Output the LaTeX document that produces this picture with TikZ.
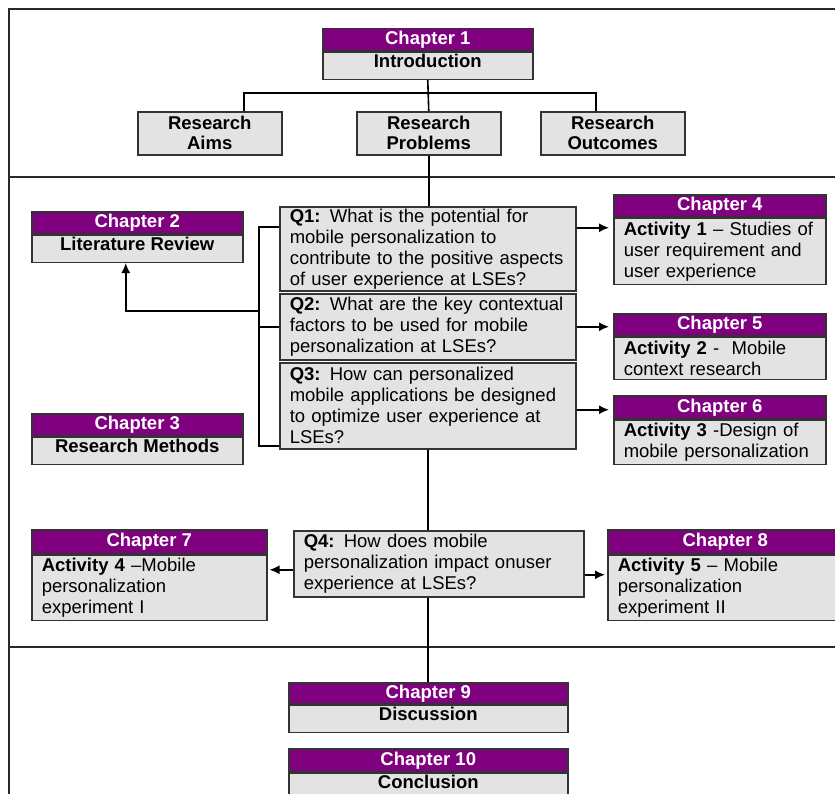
\documentclass[tikz,border=0pt]{standalone}
\usepackage{fontspec}
\setmainfont{Liberation Sans}
\usetikzlibrary{arrows.meta}
\definecolor{chpurple}{HTML}{800080}
\definecolor{boxgray}{HTML}{E3E3E3}
\definecolor{edge}{HTML}{333333}
\definecolor{rule}{HTML}{2A2A2A}

\begin{document}
\begin{tikzpicture}[x=1bp,y=-1bp,
  txt/.style={font=\fontsize{18.5bp}{21bp}\selectfont},
  hdr/.style={txt, draw=edge, fill=chpurple, text=white, font=\fontsize{18.5bp}{21bp}\selectfont\bfseries,
              line width=1.5bp, minimum height=22bp, inner sep=0pt, anchor=north west},
  titlebody/.style={txt, draw=edge, fill=boxgray, line width=1.5bp, inner sep=0pt,
              text height=13bp, text depth=9.5bp,
              font=\fontsize{18.5bp}{21bp}\selectfont\bfseries, anchor=north},
  actbody/.style={txt, draw=edge, fill=boxgray, line width=1.5bp, inner xsep=10bp, inner ysep=0bp,
              align=left, anchor=north},
  topicbox/.style={txt, draw=edge, fill=boxgray, line width=1.5bp, inner sep=0pt, align=center,
              font=\fontsize{18.5bp}{20bp}\selectfont\bfseries, minimum width=144bp, minimum height=43bp,
              anchor=north west},
  qbox/.style={txt, draw=edge, fill=boxgray, line width=1.5bp, inner xsep=10bp, inner ysep=1bp,
              align=left, anchor=north west},
  link/.style={draw=black, line width=1.6bp},
  arr/.style={link, -{Latex[length=10bp,width=9bp]}},
  framerule/.style={draw=rule, line width=1.7bp}
]
\useasboundingbox (0,0) rectangle (835,794);
\clip (0,0) rectangle (835,794);

% section frame
\draw[framerule] (845,9) -- (9,9) -- (9,800);
\draw[framerule] (9,177) -- (845,177);
\draw[framerule] (9,647) -- (845,647);

% ---- Chapter 1 and its three topics
\node[hdr, minimum width=210bp] (c1h) at (322,28) {Chapter 1};
\node[titlebody, minimum width=210bp, minimum height=27bp] (c1) at (c1h.south) {Introduction};

\node[topicbox] (aims)  at (137,111) {Research\\Aims};
\node[topicbox] (probs) at (356,111) {Research\\Problems};
\node[topicbox] (outc)  at (540,111) {Research\\Outcomes};

\draw[link] (c1.south) -- (probs.north);
\draw[link] ([xshift=34bp]aims.north) -- ++(0,-18) -| ([xshift=-17bp]outc.north);

% ---- research questions
\node[qbox, text width=276bp, minimum width=296bp, minimum height=84bp] (q1) at (279,206)
  {\textbf{Q1:} What is the potential for\\mobile personalization to\\contribute to the positive aspects\\of user experience at LSEs?};
\node[qbox, text width=276bp, minimum width=296bp, minimum height=66bp] (q2) at (279,293)
  {\textbf{Q2:} What are the key contextual\\factors to be used for mobile\\personalization at LSEs?};
\node[qbox, text width=276bp, minimum width=296bp, minimum height=86bp] (q3) at (279,362)
  {\textbf{Q3:} How can personalized\\mobile applications be designed\\to optimize user experience at\\LSEs?};

\draw[link] (probs.south) -- (probs.south |- q1.north);

% ---- Chapters 2 and 3 on the left
\node[hdr, minimum width=211bp] (c2h) at (31,211) {Chapter 2};
\node[titlebody, minimum width=211bp, minimum height=27bp] (c2) at (c2h.south) {Literature Review};
\node[hdr, minimum width=211bp] (c3h) at (31,413) {Chapter 3};
\node[titlebody, minimum width=211bp, minimum height=27bp] (c3) at (c3h.south) {Research Methods};

% bracket joining the questions, feeding Chapter 2
\coordinate (br1) at (259,227);
\coordinate (br2) at (259,311);
\coordinate (br3) at (259,446);
\draw[link] (br1 -| q1.west) -- (br1) -- (br3) -- (br3 -| q3.west);
\draw[link] (q2.west -| br1) -- (q2.west);
\draw[arr] (br2) -| ([xshift=-11.5bp]c2.south);

% ---- Chapters 4, 5, 6 on the right
\node[hdr, minimum width=212bp] (c4h) at (613,194) {Chapter 4};
\node[actbody, text width=192bp, minimum width=212bp, minimum height=66bp] (c4) at (c4h.south)
  {\textbf{Activity 1} -- Studies of\\user requirement and\\user experience};
\node[hdr, minimum width=212bp] (c5h) at (613,313) {Chapter 5};
\node[actbody, text width=192bp, minimum width=212bp, minimum height=42bp] (c5) at (c5h.south)
  {\textbf{Activity 2} -\ \ Mobile\\context research};
\node[hdr, minimum width=212bp, minimum height=23bp] (c6h) at (613,395) {Chapter 6};
\node[actbody, text width=192bp, minimum width=212bp, minimum height=44bp] (c6) at (c6h.south)
  {\textbf{Activity 3} -Design of\\mobile personalization};

\draw[arr, shorten >=4bp] ([yshift=21bp]q1.east) coordinate (a1) -- (a1 -| c4.west);
\draw[arr, shorten >=4bp] (q2.east) -- (q2.east -| c5.west);
\draw[arr, shorten >=4bp] ([yshift=-4bp]q3.east) coordinate (a3) -- (a3 -| c6.west);

% ---- Chapters 9 and 10
\node[hdr, minimum width=279bp, minimum height=21bp] (c9h) at (288,682) {Chapter 9};
\node[titlebody, minimum width=279bp, minimum height=27bp] (c9) at (c9h.south) {Discussion};
\node[hdr, minimum width=279bp, minimum height=23bp] (c10h) at (288,748) {Chapter 10};
\node[titlebody, minimum width=279bp, minimum height=27bp] (c10) at (c10h.south) {Conclusion};

% spine running down behind Q4
\draw[link] (q3.south) -- (q3.south |- c9h.north);

% ---- Q4 with Chapters 7 and 8
\node[qbox, text width=270bp, minimum width=290bp, minimum height=66bp] (q4) at (293,530)
  {\textbf{Q4:} How does mobile\\personalization impact onuser\\experience at LSEs?};

\node[hdr, minimum width=235bp, minimum height=24bp] (c7h) at (31,529) {Chapter 7};
\node[actbody, text width=215bp, minimum width=235bp, minimum height=65bp] (c7) at (c7h.south)
  {\textbf{Activity 4} --Mobile\\personalization\\experiment I};
\node[hdr, minimum width=235bp, minimum height=24bp] (c8h) at (607,529) {Chapter 8};
\node[actbody, text width=215bp, minimum width=235bp, minimum height=65bp] (c8) at (c8h.south)
  {\textbf{Activity 5} -- Mobile\\personalization\\experiment II};

\draw[arr, shorten >=2bp] ([yshift=-6bp]q4.west) coordinate (a4) -- (a4 -| c7.east);
\draw[arr, shorten >=2bp] ([yshift=-11bp]q4.east) coordinate (a5) -- (a5 -| c8.west);
\end{tikzpicture}
\end{document}
